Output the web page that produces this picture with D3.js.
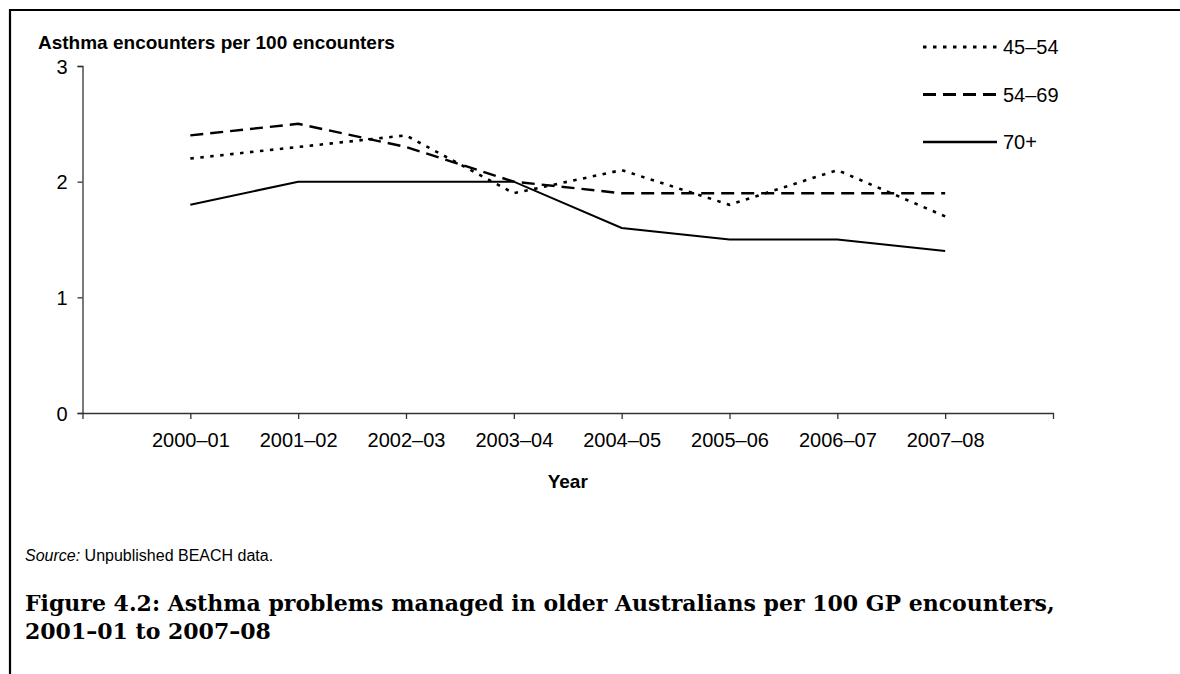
<!DOCTYPE html>
<html>
<head>
<meta charset="utf-8">
<script src="https://cdn.jsdelivr.net/npm/d3@7"></script>
<style>
  body { margin: 0; background: #fff; }
  svg { display: block; }
</style>
</head>
<body>
<div id="chart"></div>
<script>
// values
const years = ['2000–01', '2001–02', '2002–03', '2003–04', '2004–05', '2005–06', '2006–07', '2007–08'];
const age4554 = [2.2, 2.3, 2.4, 1.9, 2.1, 1.8, 2.1, 1.7];
const age5469 = [2.4, 2.5, 2.3, 2.0, 1.9, 1.9, 1.9, 1.9];
const age70 = [1.8, 2.0, 2.0, 2.0, 1.6, 1.5, 1.5, 1.4];
const seriesNames = ['45–54', '54–69', '70+'];
const yTicks = [0, 1, 2, 3];

const width = 1180;
const height = 674;
const margin = {top: 66, right: 127, bottom: 261, left: 82.5};

const series = [
  {name: seriesNames[0], values: age4554, dash: '3.5,6.5', sw: 2.6},
  {name: seriesNames[1], values: age5469, dash: '13,7', sw: 2.4},
  {name: seriesNames[2], values: age70, dash: null, sw: 2}
];

const svg = d3.select('#chart').append('svg')
  .attr('width', width)
  .attr('height', height);

// page frame (top and left edges visible)
svg.append('line')
  .attr('x1', 10).attr('x2', width).attr('y1', 10).attr('y2', 10)
  .attr('stroke', '#000').attr('stroke-width', 2.2);
svg.append('line')
  .attr('x1', 10).attr('x2', 10).attr('y1', 9).attr('y2', height)
  .attr('stroke', '#000').attr('stroke-width', 2.2);

// scales
const xScale = d3.scalePoint()
  .domain(years)
  .range([margin.left, width - margin.right])
  .padding(1);

const yScale = d3.scaleLinear()
  .domain([0, 3])
  .range([height - margin.bottom, margin.top]);

// axes
const xAxis = d3.axisBottom(xScale).tickSize(6).tickSizeOuter(6).tickPadding(14);
const yAxis = d3.axisLeft(yScale).tickValues(yTicks).tickFormat(d3.format('d'))
  .tickSize(5).tickSizeOuter(5).tickPadding(10);

const xAxisG = svg.append('g')
  .attr('transform', `translate(0, ${height - margin.bottom})`)
  .call(xAxis);

const yAxisG = svg.append('g')
  .attr('transform', `translate(${margin.left}, 0)`)
  .call(yAxis);

[xAxisG, yAxisG].forEach(g => {
  g.selectAll('path, line').attr('stroke', '#333').attr('stroke-width', 1.3);
  g.selectAll('text')
    .attr('fill', '#000')
    .style('font-family', '"Liberation Sans", Arial, sans-serif')
    .style('font-size', '20px');
});
yAxisG.selectAll('text').attr('dy', '0.36em');

// lines
const line = d3.line()
  .x((d, i) => xScale(years[i]))
  .y(d => yScale(d));

svg.append('g').selectAll('path')
  .data(series)
  .enter().append('path')
  .attr('d', d => line(d.values))
  .attr('fill', 'none')
  .attr('stroke', '#000')
  .attr('stroke-width', d => d.sw)
  .attr('stroke-dasharray', d => d.dash);

// legend
const legendX = 923;
const legendY = 47;
const legendStep = 47.5;

let legend = svg.append('g').attr('class', 'legend');
let items = legend.selectAll('g')
  .data(series)
  .enter().append('g')
  .attr('transform', (d, i) => `translate(${legendX}, ${legendY + i * legendStep})`);

items.append('line')
  .attr('x1', 0).attr('x2', 74)
  .attr('stroke', '#000')
  .attr('stroke-width', d => d.sw + 0.4)
  .attr('stroke-dasharray', d => d.dash);

items.append('text')
  .attr('x', 80)
  .attr('dy', '0.36em')
  .text(d => d.name)
  .style('font-family', '"Liberation Sans", Arial, sans-serif')
  .style('font-size', '20px');

// titles
svg.append('text')
  .attr('x', 38)
  .attr('y', 49)
  .text('Asthma encounters per 100 encounters')
  .style('font-family', '"Liberation Sans", Arial, sans-serif')
  .style('font-weight', 'bold')
  .style('font-size', '19px');

svg.append('text')
  .attr('x', (margin.left + width - margin.right) / 2)
  .attr('y', 488)
  .attr('text-anchor', 'middle')
  .text('Year')
  .style('font-family', '"Liberation Sans", Arial, sans-serif')
  .style('font-weight', 'bold')
  .style('font-size', '19px');

let source = svg.append('text')
  .attr('x', 25)
  .attr('y', 561)
  .style('font-family', '"Liberation Sans", Arial, sans-serif')
  .style('font-size', '16px');
source.append('tspan').style('font-style', 'italic').text('Source:');
source.append('tspan').text(' Unpublished BEACH data.');

const caption = [
  'Figure 4.2: Asthma problems managed in older Australians per 100 GP encounters,',
  '2001–01 to 2007–08'
];
svg.append('g').selectAll('text')
  .data(caption)
  .enter().append('text')
  .attr('x', 25)
  .attr('y', (d, i) => 611 + i * 28)
  .text(d => d)
  .style('font-family', '"DejaVu Serif", Georgia, serif')
  .style('font-weight', 'bold')
  .style('font-size', '22px');
</script>
</body>
</html>
